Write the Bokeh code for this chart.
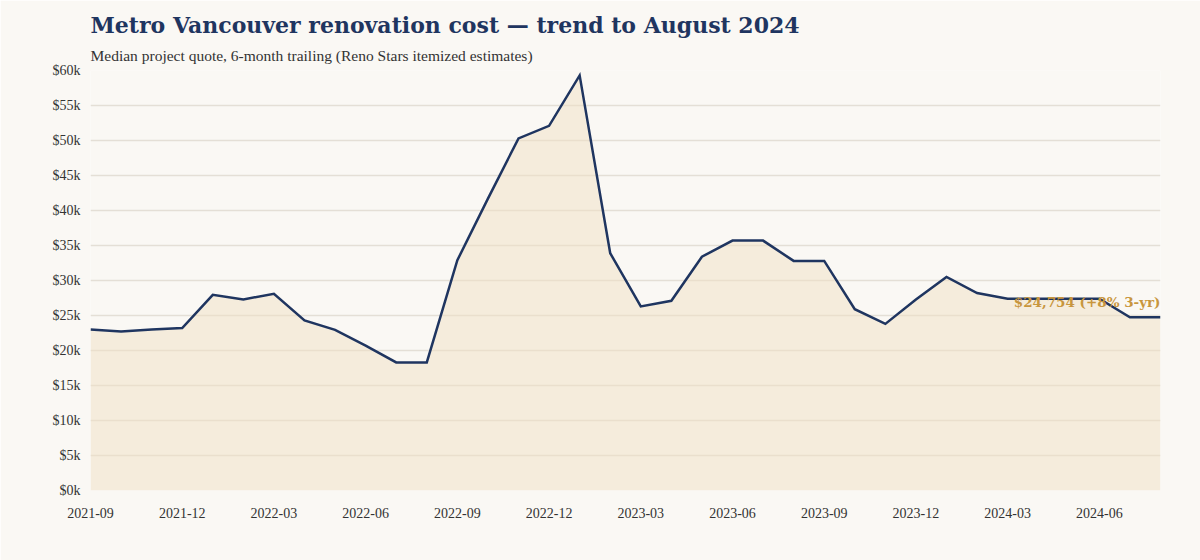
from bokeh.plotting import figure
from bokeh.models import Range1d, FixedTicker, Title, ColumnDataSource, Label
from bokeh.embed import file_html
from bokeh.resources import INLINE

months = ["2021-09", "2021-10", "2021-11", "2021-12", "2022-01", "2022-02", "2022-03", "2022-04",
          "2022-05", "2022-06", "2022-07", "2022-08", "2022-09", "2022-10", "2022-11", "2022-12",
          "2023-01", "2023-02", "2023-03", "2023-04", "2023-05", "2023-06", "2023-07", "2023-08",
          "2023-09", "2023-10", "2023-11", "2023-12", "2024-01", "2024-02", "2024-03", "2024-04",
          "2024-05", "2024-06", "2024-07", "2024-08"]
costs = [23000, 22700, 23000, 23200, 27950, 27300, 28100, 24300,
         22950, 20700, 18300, 18300, 32900, 41700, 50300, 52100,
         59300, 33900, 26300, 27100, 33400, 35700, 35700, 32800,
         32800, 25900, 23800, 27300, 30500, 28200, 27400, 27400,
         27400, 27400, 24754, 24754]
y_ticks = [0, 5000, 10000, 15000, 20000, 25000, 30000, 35000, 40000, 45000, 50000, 55000, 60000]
latest_label = "$24,754 (+8% 3-yr)"
title_text = "Metro Vancouver renovation cost \u2014 trend to August 2024"
subtitle_text = "Median project quote, 6-month trailing (Reno Stars itemized estimates)"

SERIF = "Liberation Serif"
WIDE_SERIF = "DejaVu Serif"
BG = "#faf8f4"
NAVY = "#1f3560"
GOLD = "#c8963e"

idx = list(range(len(months)))
src = ColumnDataSource(dict(x=idx, y=costs, zero=[0] * len(costs)))

p = figure(width=1200, height=560, output_backend="svg", toolbar_location=None,
           title=None, x_range=Range1d(0, len(months) - 1), y_range=Range1d(0, 60000),
           min_border_left=90, min_border_right=40, min_border_top=70, min_border_bottom=70)
p.background_fill_color = BG
p.border_fill_color = BG
p.outline_line_color = None

sub = Title(text=subtitle_text, align="left", text_font=SERIF, text_font_size="15.5px",
            text_font_style="normal", text_color="#333333", standoff=14)
p.add_layout(sub, "above")
main = Title(text=title_text, align="left", text_font=WIDE_SERIF, text_font_size="22px",
             text_font_style="bold", text_color=NAVY, standoff=0)
p.add_layout(main, "above")

p.varea(x="x", y1="zero", y2="y", source=src, fill_color="#f0e0c4", fill_alpha=0.5)
p.line(x="x", y="y", source=src, line_color=NAVY, line_width=2.5, line_join="miter")

p.add_layout(Label(x=idx[-1], y=costs[-1], text=latest_label, text_align="right",
                   text_baseline="bottom", y_offset=7, text_font=WIDE_SERIF,
                   text_font_size="13.5px", text_font_style="bold", text_color=GOLD))

tick_idx = idx[::3]
p.xaxis.ticker = FixedTicker(ticks=tick_idx)
p.xaxis.major_label_overrides = {i: months[i] for i in tick_idx}
p.yaxis.ticker = FixedTicker(ticks=y_ticks)
p.yaxis.major_label_overrides = {v: f"${v // 1000}k" for v in y_ticks}

for ax in (p.xaxis[0], p.yaxis[0]):
    ax.axis_line_color = None
    ax.major_tick_line_color = None
    ax.minor_tick_line_color = None
    ax.major_tick_out = 0
    ax.major_tick_in = 0
    ax.major_label_text_font = SERIF
    ax.major_label_text_font_size = "14px"
    ax.major_label_text_color = "#333333"
p.xaxis.major_label_standoff = 17
p.yaxis.major_label_standoff = 10

p.xgrid.grid_line_color = None
p.ygrid.grid_line_color = "#e4dfd6"
p.ygrid.grid_line_width = 1.5

open("out.html", "w").write(file_html(p, INLINE))
